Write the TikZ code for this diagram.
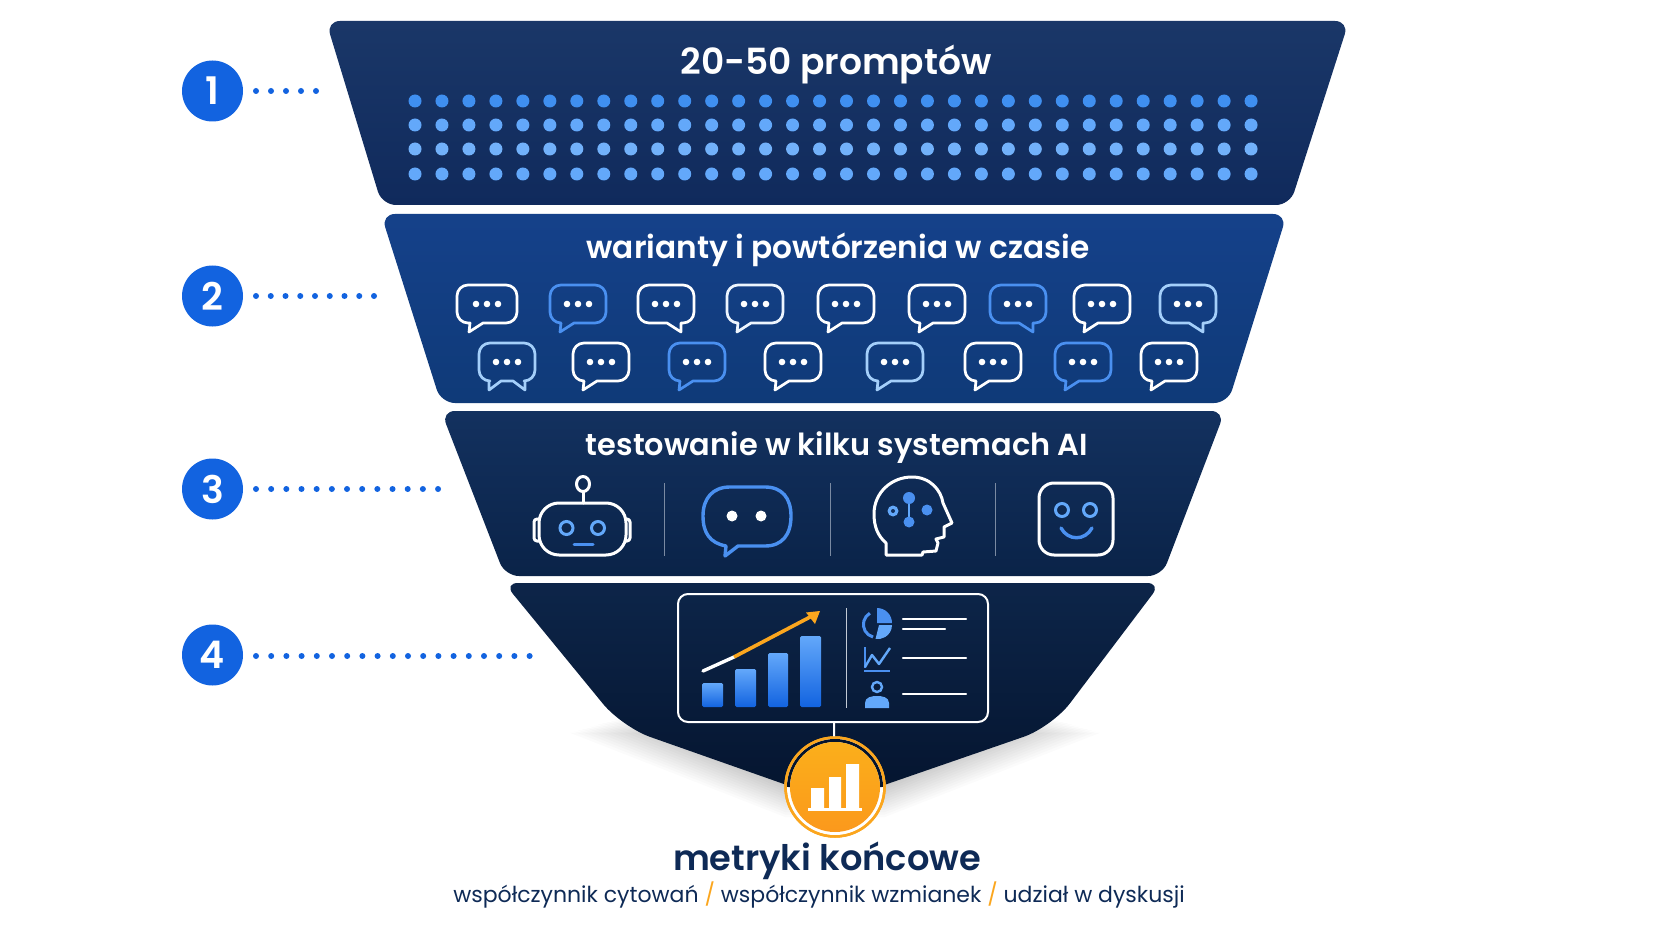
\documentclass[tikz,border=0pt]{standalone}
\usepackage{fontspec}
\setmainfont{Poppins}[BoldFont={Poppins SemiBold}]
\definecolor{nblue}{HTML}{1263E0}
\definecolor{ink}{HTML}{0E2A56}
\definecolor{orangeb}{HTML}{FBA61E}
\definecolor{lblue}{HTML}{63A8FA}
\definecolor{mblue}{HTML}{4A90F0}
\definecolor{pblue}{HTML}{A4CFFA}
\definecolor{dotb}{HTML}{3F8FF0}
\definecolor{aT}{HTML}{1A3768}\definecolor{aB}{HTML}{102A5C}
\definecolor{bT}{HTML}{15418A}\definecolor{bB}{HTML}{0F3A78}
\definecolor{cT}{HTML}{13315F}\definecolor{cB}{HTML}{0A2348}
\definecolor{dT}{HTML}{0D2549}\definecolor{dB}{HTML}{04142E}
\tikzset{x=1pt,y=-1pt,
 band/.style={rounded corners=14pt},
 title/.style={text=white,font=\bfseries\fontsize{#1}{36}\selectfont,inner sep=0},
 numb/.style={circle,fill=nblue,text=white,minimum size=61pt,inner sep=0,font=\bfseries\fontsize{38}{40}\selectfont},
 dotline/.style={draw=nblue,line width=6pt,line cap=round,dash pattern=on 0pt off #1},
 icon/.style={draw=white,line width=3pt,line join=round,line cap=round},
 blueicon/.style={icon,draw=mblue},
 divider/.style={draw=white!45!ink,line width=1pt},
 panelline/.style={draw=white,line width=2.2pt,line cap=round},
 barfill/.style={top color=lblue,bottom color=nblue,rounded corners=1.5pt},
 sub/.style={text=ink,inner sep=0,font=\fontsize{#1}{25}\selectfont}}
\def\tL{-- (-4,19) -- (-18,28) -- (-17,19)}
\def\tR{-- (15,19) -- (15,28) -- (1,19)}
\def\tB{-- (18,19) -- (18,28) -- (6,19) -- (-6,19) -- (-18,28) -- (-18,19)}
\newcommand{\bub}[5]{% x y colour halfwidth tail
 \begin{scope}[shift={(#1,#2)}]
 \draw[draw=#3,line width=2.7pt,line join=round]
   ({-#4+11},-19) -- ({#4-11},-19) arc[start angle=90,end angle=0,radius=11pt] -- (#4,8)
   arc[start angle=0,end angle=-90,radius=11pt] #5 -- ({-#4+11},19)
   arc[start angle=270,end angle=180,radius=11pt] -- (-#4,-8)
   arc[start angle=180,end angle=90,radius=11pt] -- cycle;
 \fill[white] (-11,0) circle[radius=3.3pt] (0,0) circle[radius=3.3pt] (11,0) circle[radius=3.3pt];
 \end{scope}}
\begin{document}
\begin{tikzpicture}
\useasboundingbox (0,0) rectangle (1672,941);
\fill[white] (0,0) rectangle (1672,941);
% soft shadows
\foreach \i in {1,...,14}{
 \fill[black,opacity=.014] ({626-4*\i},{716+1.2*\i}) -- (785,{782+2.5*\i}) -- (885,{782+2.5*\i}) -- ({1044+4*\i},{716+1.2*\i}) -- cycle;
}
\path[left color=white,middle color=ink!28,right color=white] (420,205) rectangle (1250,214);
\path[left color=white,middle color=ink!14,right color=white] (470,403) rectangle (1200,411);
\path[left color=white,middle color=ink!14,right color=white] (520,576) rectangle (1150,583);
% bands
\path[band,top color=aT,bottom color=aB] (326,21) -- (1349,21) -- (1290,205) -- (382,205) -- cycle;
\path[band,top color=bT,bottom color=bB] (381,214) -- (1287,214) -- (1228,403) -- (441,403) -- cycle;
\path[band,top color=cT,bottom color=cB] (441,411) -- (1225,411) -- (1162,576) -- (505,576) -- cycle;
\path[top color=dT,bottom color=dB] [rounded corners=14pt] (504,583) -- (1161,583) [rounded corners=30pt] -- (1052,727) [rounded corners=0pt] -- (835,802) [rounded corners=30pt] -- (622,727) [rounded corners=14pt] -- cycle;
% step numbers and dotted leaders
\node[numb] (n1) at (212.5,91) {1};
\node[numb] (n2) at (212.5,296) {2};
\node[numb] (n3) at (212.5,489) {3};
\node[numb] (n4) at (212.5,655) {4};
\coordinate (e1) at (317,91);
\coordinate (e2) at (375,296);
\coordinate (e3) at (439,489);
\coordinate (e4) at (531,656);
\coordinate (s1) at (256,91);
\coordinate (s2) at (256,296);
\coordinate (s3) at (256,489);
\coordinate (s4) at (256,656);
\draw[dotline=15pt] (s1) -- (e1);
\draw[dotline=14.75pt] (s2) -- (e2);
\draw[dotline=15.17pt] (s3) -- (e3);
\draw[dotline=15.2pt] (s4) -- (e4);
% band 1
\node[title=36] (t1) at (836,65) {20-50 promptów};
\foreach \c in {0,...,31}{
 \fill[dotb] ({415+26.97*\c},101) circle[radius=6.5pt];
 \fill[lblue] ({415+26.97*\c},125) circle[radius=6.5pt];
 \fill[lblue!90!white] ({415+26.97*\c},149) circle[radius=6.5pt];
 \fill[lblue] ({415+26.97*\c},174) circle[radius=6.5pt];
}
% band 2
\node[title=31.2] (t2) at (838,250) {warianty i powtórzenia w czasie};
\bub{487}{304}{white}{30}{\tL}
\bub{578}{304}{mblue}{28}{\tL}
\bub{666}{304}{white}{28}{\tR}
\bub{755}{304}{white!80!pblue}{28}{\tL}
\bub{846}{304}{white}{28}{\tL}
\bub{937}{304}{white}{28}{\tL}
\bub{1018}{304}{mblue}{28}{\tR}
\bub{1102}{304}{white}{28}{\tL}
\bub{1188}{304}{pblue}{28}{\tR}
\bub{507}{362}{pblue}{28}{\tB}
\bub{601}{362}{white}{28}{\tL}
\bub{697}{362}{mblue}{28}{\tL}
\bub{793}{362}{white}{28}{\tL}
\bub{895}{362}{pblue}{28}{\tL}
\bub{993}{362}{white}{28}{\tL}
\bub{1083}{362}{mblue}{28}{\tL}
\bub{1169}{362}{white}{28}{\tL}
% band 3
\node[title=30.4] (t3) at (837,448) {testowanie w kilku systemach AI};
% robot
\draw[icon] (583,484) ellipse[x radius=6.5pt,y radius=7.5pt];
\draw[icon] (583,492) -- (583,503);
\draw[icon,rounded corners=20pt] (539,503) rectangle (626,555);
\draw[icon,rounded corners=3pt] (539,519) -- (534,519) -- (534,541) -- (539,541);
\draw[icon,rounded corners=3pt] (626,519) -- (630,519) -- (630,541) -- (626,541);
\draw[draw=lblue,line width=3pt] (566.5,528) circle[radius=6.5pt] (598,528) circle[radius=6.5pt];
\draw[draw=mblue,line width=3pt,line cap=round] (574,544) -- (593,544);
\draw[divider] (664.5,483) -- (664.5,556);
\draw[divider] (830,483) -- (830,556);
\draw[divider] (995,483) -- (995,556);
% chat icon
\draw[blueicon,line width=3.4pt] (730,487) -- (765,487) .. controls (782,487) and (791,498) .. (791,516) .. controls (791,535) and (782,546) .. (765,546) -- (738,546) -- (725,556) -- (726,546) .. controls (710,543) and (703,533) .. (703,516) .. controls (703,498) and (713,487) .. (730,487) -- cycle;
\fill[white] (732,516) circle[radius=5.5pt] (761,516) circle[radius=5.5pt];
% head icon
\draw[icon] (886,555) -- (886,543) .. controls (878,536) and (874,527) .. (874,514) .. controls (874,492) and (892,477) .. (912,477) .. controls (930,477) and (941,490) .. (943,503) -- (952,523) -- (944,527) -- (944,537) -- (936,539) -- (938,543) -- (936,551) -- (923,552) -- (922,555) -- cycle;
\draw[draw=lblue,line width=2pt] (909,498) -- (909,522);
\fill[mblue] (909,498) circle[radius=6pt] (909,522) circle[radius=5.5pt] (927,510) circle[radius=5.5pt];
\fill[lblue] (893,511) circle[radius=5.5pt];
\fill[cT] (893,511) circle[radius=2pt];
% face icon
\draw[icon,rounded corners=15pt] (1039,483) rectangle (1113,555);
\draw[draw=lblue,line width=3pt] (1062,510) circle[radius=6.5pt] (1090,510) circle[radius=6.5pt];
\draw[draw=mblue,line width=3.4pt,line cap=round] (1061,528) .. controls (1068,541) and (1085,541) .. (1092,528);
% band 4 panel
\node[draw=white,line width=2pt,rounded corners=10pt,minimum width=310pt,minimum height=128pt,inner sep=0] (panel) at (833,658) {};
\path[barfill] (702,683) rectangle (723,707);
\path[barfill] (735,669) rectangle (756,707);
\path[barfill] (768,653) rectangle (788,707);
\path[barfill] (800,636) rectangle (821,707);
\coordinate (a0) at (703,671);
\coordinate (a1) at (734,657);
\coordinate (a2) at (820,611);
\draw[draw=white,line width=3.4pt,line cap=round] (a0) -- (a1);
\draw[draw=orangeb,line width=3.6pt] (a1) -- (812,616);
\fill[orangeb] (a2) -- (806,612.5) -- (815,624) -- cycle;
\draw[divider,draw=white!75!ink] (846,608) -- (846,708);
% pie
\fill[mblue] (877,623) -- (877,608) arc[start angle=90,end angle=0,radius=15pt] -- cycle;
\fill[lblue] (879,625) -- (892,625) arc[start angle=0,end angle=-100,radius=14pt] -- cycle;
\draw[draw=mblue,line width=3pt] (873,637) arc[start angle=-105,end angle=-240,radius=13pt];
\draw[panelline] (903,619) -- (966,619);
\draw[panelline] (903,629) -- (945,629);
\draw[panelline] (903,658) -- (966,658);
\draw[panelline] (903,694) -- (966,694);
% trend icon
\draw[draw=mblue,line width=1.8pt] (865,647) -- (865,668);
\draw[draw=mblue,line width=2.2pt] (864,671) -- (890,671);
\draw[draw=lblue,line width=2.4pt,line join=round] (865,667) -- (872,655) -- (879,664) -- (890,648);
% person icon
\draw[draw=lblue,line width=2.4pt] (877,687) circle[radius=5pt];
\fill[lblue] (865,708) -- (865,703) .. controls (865,697) and (872,696) .. (877,696) .. controls (882,696) and (889,697) .. (889,703) -- (889,708) -- cycle;
% final metric
\node[circle,minimum size=99pt,inner sep=0,draw=orangeb,line width=2.5pt,fill=white] (gold) at (835,787) {};
\draw[draw=dB,line width=3pt] (881.5,787) arc[start angle=0,end angle=180,radius=46.5pt];
\draw[draw=orangeb,line width=2.5pt] (835,787) circle[radius=49.5pt];
\path[top color=orangeb!90!yellow,bottom color=orangeb!92!red] (835,787) circle[radius=45pt];
\fill[white] (811,788) rectangle (824,809) (829,777) rectangle (841,809) (846,764) rectangle (859,809);
\fill[white] (808,808) rectangle (862,811);
\draw[draw=white,line width=2pt] (panel) -- (gold);
\node[sub=35.2,font=\bfseries\fontsize{35.2}{38}\selectfont] (m) at (827,861) {metryki końcowe};
\node[sub=22] (s) at (819,895) {współczynnik cytowań \textcolor{orangeb}{/} współczynnik wzmianek \textcolor{orangeb}{/} udział w dyskusji};
\end{tikzpicture}
\end{document}
